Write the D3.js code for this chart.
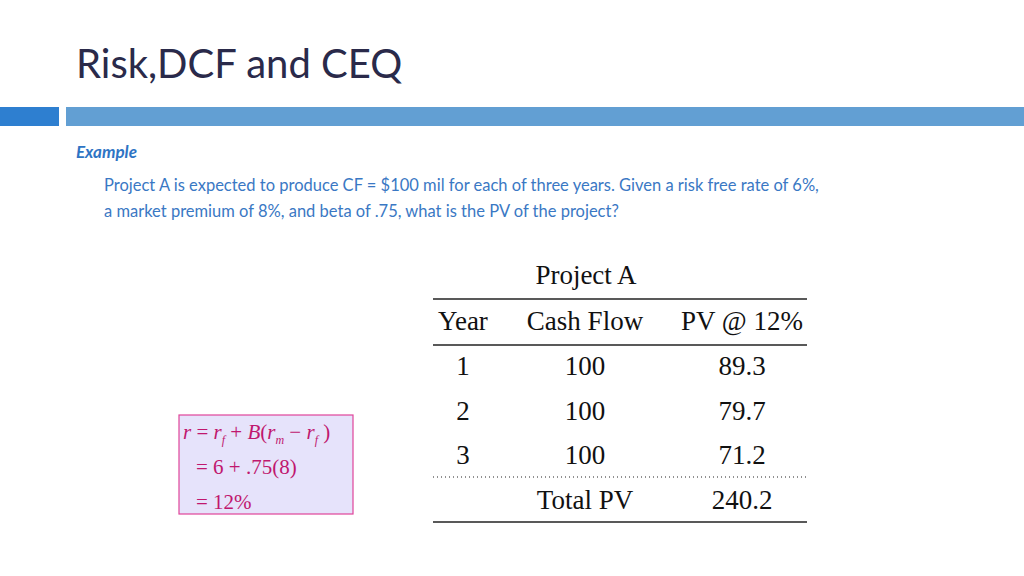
<!DOCTYPE html><html><head><meta charset="utf-8">
<script src="https://cdn.jsdelivr.net/npm/d3@7"></script>
<style>body{margin:0;background:#fff}</style></head><body>
<script>
const years = ["1","2","3"];
const cashFlows = [100,100,100];
const pvs = [89.3,79.7,71.2];
const totalPV = 240.2;
const headers = ["Year","Cash Flow","PV @ 12%"];

const svg = d3.select("body").append("svg").attr("width",1024).attr("height",576);
svg.append("text").attr("x",76).attr("y",78).text("Risk,DCF and CEQ")
  .attr("font-family","Lato, Open Sans, sans-serif").attr("font-size",40).attr("fill","#2a2a4a");
svg.append("rect").attr("x",0).attr("y",107).attr("width",59).attr("height",19).attr("fill","#2e7fd0");
svg.append("rect").attr("x",66).attr("y",107).attr("width",958).attr("height",19).attr("fill","#629fd3");
svg.append("text").attr("x",76).attr("y",158).text("Example").attr("font-family","Lato, sans-serif")
  .attr("font-size",17).attr("font-style","italic").attr("font-weight","bold").attr("fill","#2e74c4");
const para=["Project A is expected to produce CF = $100 mil for each of three years. Given a risk free rate of 6%,",
 "a market premium of 8%, and beta of .75, what is the PV of the project?"];
para.forEach((t,i)=>svg.append("text").attr("x",104).attr("y",191+i*26).text(t)
  .attr("font-family","Lato, sans-serif").attr("font-size",16.5).attr("fill","#3a78c4"));

const serif="Liberation Serif, Times New Roman, serif";
const x = d3.scalePoint().domain(headers).range([463,742]);
const xs={"Year":463,"Cash Flow":585,"PV @ 12%":742};
const y = d3.scaleLinear().domain([0,4]).range([321,500]);
const g=svg.append("g").attr("font-family",serif).attr("font-size",27).attr("fill","#111").attr("text-anchor","middle");
g.append("text").attr("x",586).attr("y",284).text("Project  A");
headers.forEach(h=>g.append("text").attr("x",xs[h]).attr("y",y(0)+9).text(h));
years.forEach((yr,i)=>{
  g.append("text").attr("x",xs["Year"]).attr("y",y(i+1)+9).text(yr);
  g.append("text").attr("x",xs["Cash Flow"]).attr("y",y(i+1)+9).text(cashFlows[i]);
  g.append("text").attr("x",xs["PV @ 12%"]).attr("y",y(i+1)+9).text(pvs[i].toFixed(1));
});
g.append("text").attr("x",xs["Cash Flow"]).attr("y",y(4)+9).text("Total PV");
g.append("text").attr("x",xs["PV @ 12%"]).attr("y",y(4)+9).text(totalPV.toFixed(1));
[[299,null],[345,null],[477,"1,3"],[522,null]].forEach(([yy,d])=>{
  svg.append("line").attr("x1",433).attr("x2",807).attr("y1",yy).attr("y2",yy)
   .attr("stroke","#222").attr("stroke-width",d?1:1.3).attr("stroke-dasharray",d);
});
svg.append("rect").attr("x",179).attr("y",415).attr("width",174).attr("height",99)
  .attr("fill","#e6e3fb").attr("stroke","#e0449a").attr("stroke-width",1.2);
const f=svg.append("g").attr("font-family",serif).attr("font-size",21).attr("fill","#c0176e").attr("font-style","normal");
const l1=f.append("text").attr("x",183).attr("y",439);
l1.append("tspan").attr("font-style","italic").text("r");
l1.append("tspan").text(" = ");
l1.append("tspan").attr("font-style","italic").text("r");
l1.append("tspan").attr("font-style","italic").attr("font-size",12).attr("dy",5).text("f");
l1.append("tspan").attr("dy",-5).text("  + ");
l1.append("tspan").attr("font-style","italic").text("B");
l1.append("tspan").text("(");
l1.append("tspan").attr("font-style","italic").text("r");
l1.append("tspan").attr("font-style","italic").attr("font-size",12).attr("dy",5).text("m");
l1.append("tspan").attr("dy",-5).text(" − ");
l1.append("tspan").attr("font-style","italic").text("r");
l1.append("tspan").attr("font-style","italic").attr("font-size",12).attr("dy",5).text("f");
l1.append("tspan").attr("dy",-5).text(" )");
f.append("text").attr("x",196).attr("y",474).text("= 6 + .75(8)");
f.append("text").attr("x",196).attr("y",509).text("= 12%");
</script></body></html>
